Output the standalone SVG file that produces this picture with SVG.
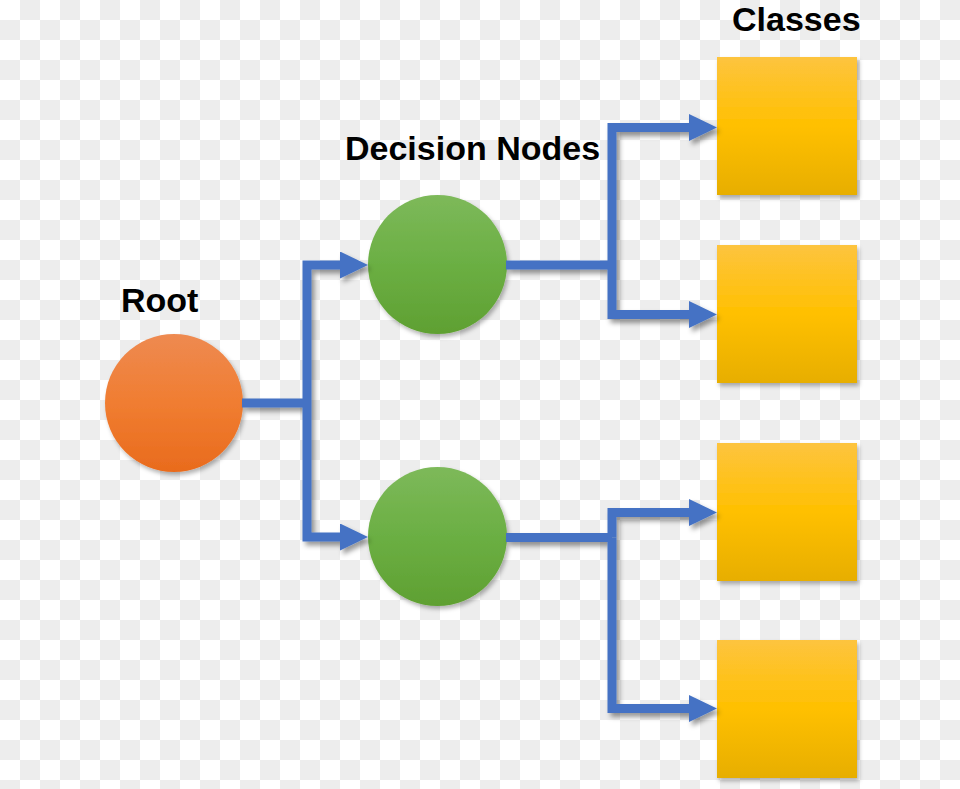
<svg xmlns="http://www.w3.org/2000/svg" width="960" height="789" viewBox="0 0 960 789">
  <defs>
    <pattern id="checker" patternUnits="userSpaceOnUse" width="40" height="40">
      <rect width="40" height="40" fill="#ffffff"/>
      <rect x="20" y="0" width="20" height="20" fill="#ededed"/>
      <rect x="0" y="20" width="20" height="20" fill="#ededed"/>
    </pattern>
    <linearGradient id="gOrange" x1="0" y1="0" x2="0" y2="1">
      <stop offset="0" stop-color="#ee8a51"/>
      <stop offset="0.5" stop-color="#f07d31"/>
      <stop offset="1" stop-color="#e96b1d"/>
    </linearGradient>
    <linearGradient id="gGreen" x1="0" y1="0" x2="0" y2="1">
      <stop offset="0" stop-color="#7db95a"/>
      <stop offset="0.5" stop-color="#6baf43"/>
      <stop offset="1" stop-color="#5fa032"/>
    </linearGradient>
    <linearGradient id="gYellow" x1="0" y1="0" x2="0" y2="1">
      <stop offset="0" stop-color="#fdc43f"/>
      <stop offset="0.5" stop-color="#ffc000"/>
      <stop offset="1" stop-color="#e7ae00"/>
    </linearGradient>
    <filter id="nodeShadow" x="-20%" y="-20%" width="140%" height="140%">
      <feDropShadow dx="2" dy="3" stdDeviation="2" flood-color="#000" flood-opacity="0.3"/>
    </filter>
    <filter id="lineShadow" x="-20%" y="-20%" width="140%" height="140%">
      <feDropShadow dx="3" dy="4" stdDeviation="2.5" flood-color="#000" flood-opacity="0.4"/>
    </filter>
    <marker id="arrow" markerUnits="userSpaceOnUse" markerWidth="28" markerHeight="27" refX="1" refY="13.5" orient="auto">
      <path d="M0,0 L28,13.5 L0,27 Z" fill="#4472c4"/>
    </marker>
  </defs>
  <style>
    .lbl { font-family: "Liberation Sans", Arial, Helvetica, sans-serif; font-weight: bold; font-size: 34px; fill: #000; }
    .conn { fill: none; stroke: #4472c4; stroke-width: 9; stroke-linejoin: miter; stroke-linecap: butt; }
    .box { fill: url(#gYellow); filter: url(#nodeShadow); }
    .dec { fill: url(#gGreen); filter: url(#nodeShadow); }
  </style>

  <rect width="960" height="789" fill="url(#checker)"/>

  <g id="labels">
    <text class="lbl" x="121" y="312">Root</text>
    <text class="lbl" x="345" y="160">Decision Nodes</text>
    <text class="lbl" x="732" y="31">Classes</text>
  </g>

  <g id="root">
    <circle cx="174" cy="403" r="69" fill="url(#gOrange)" filter="url(#nodeShadow)"/>
  </g>
  <g id="decision1">
    <circle class="dec" cx="437.5" cy="264.5" r="69.5"/>
  </g>
  <g id="decision2">
    <circle class="dec" cx="437.5" cy="536.5" r="69.5"/>
  </g>
  <g id="class1">
    <rect class="box" x="717" y="57" width="140" height="138"/>
  </g>
  <g id="class2">
    <rect class="box" x="717" y="245" width="140" height="138"/>
  </g>
  <g id="class3">
    <rect class="box" x="717" y="443" width="140" height="138"/>
  </g>
  <g id="class4">
    <rect class="box" x="717" y="640" width="140" height="138"/>
  </g>

  <g id="connectors" filter="url(#lineShadow)">
    <path class="conn" d="M242,403 H307"/>
    <path class="conn" d="M307,403 V265 H341" marker-end="url(#arrow)"/>
    <path class="conn" d="M307,403 V537 H341" marker-end="url(#arrow)"/>
    <path class="conn" d="M506,265 H612"/>
    <path class="conn" d="M612,265 V127.5 H690" marker-end="url(#arrow)"/>
    <path class="conn" d="M612,265 V314.5 H690" marker-end="url(#arrow)"/>
    <path class="conn" d="M506,537.5 H612"/>
    <path class="conn" d="M612,537.5 V512.5 H690" marker-end="url(#arrow)"/>
    <path class="conn" d="M612,537.5 V708.5 H690" marker-end="url(#arrow)"/>
  </g>
</svg>
